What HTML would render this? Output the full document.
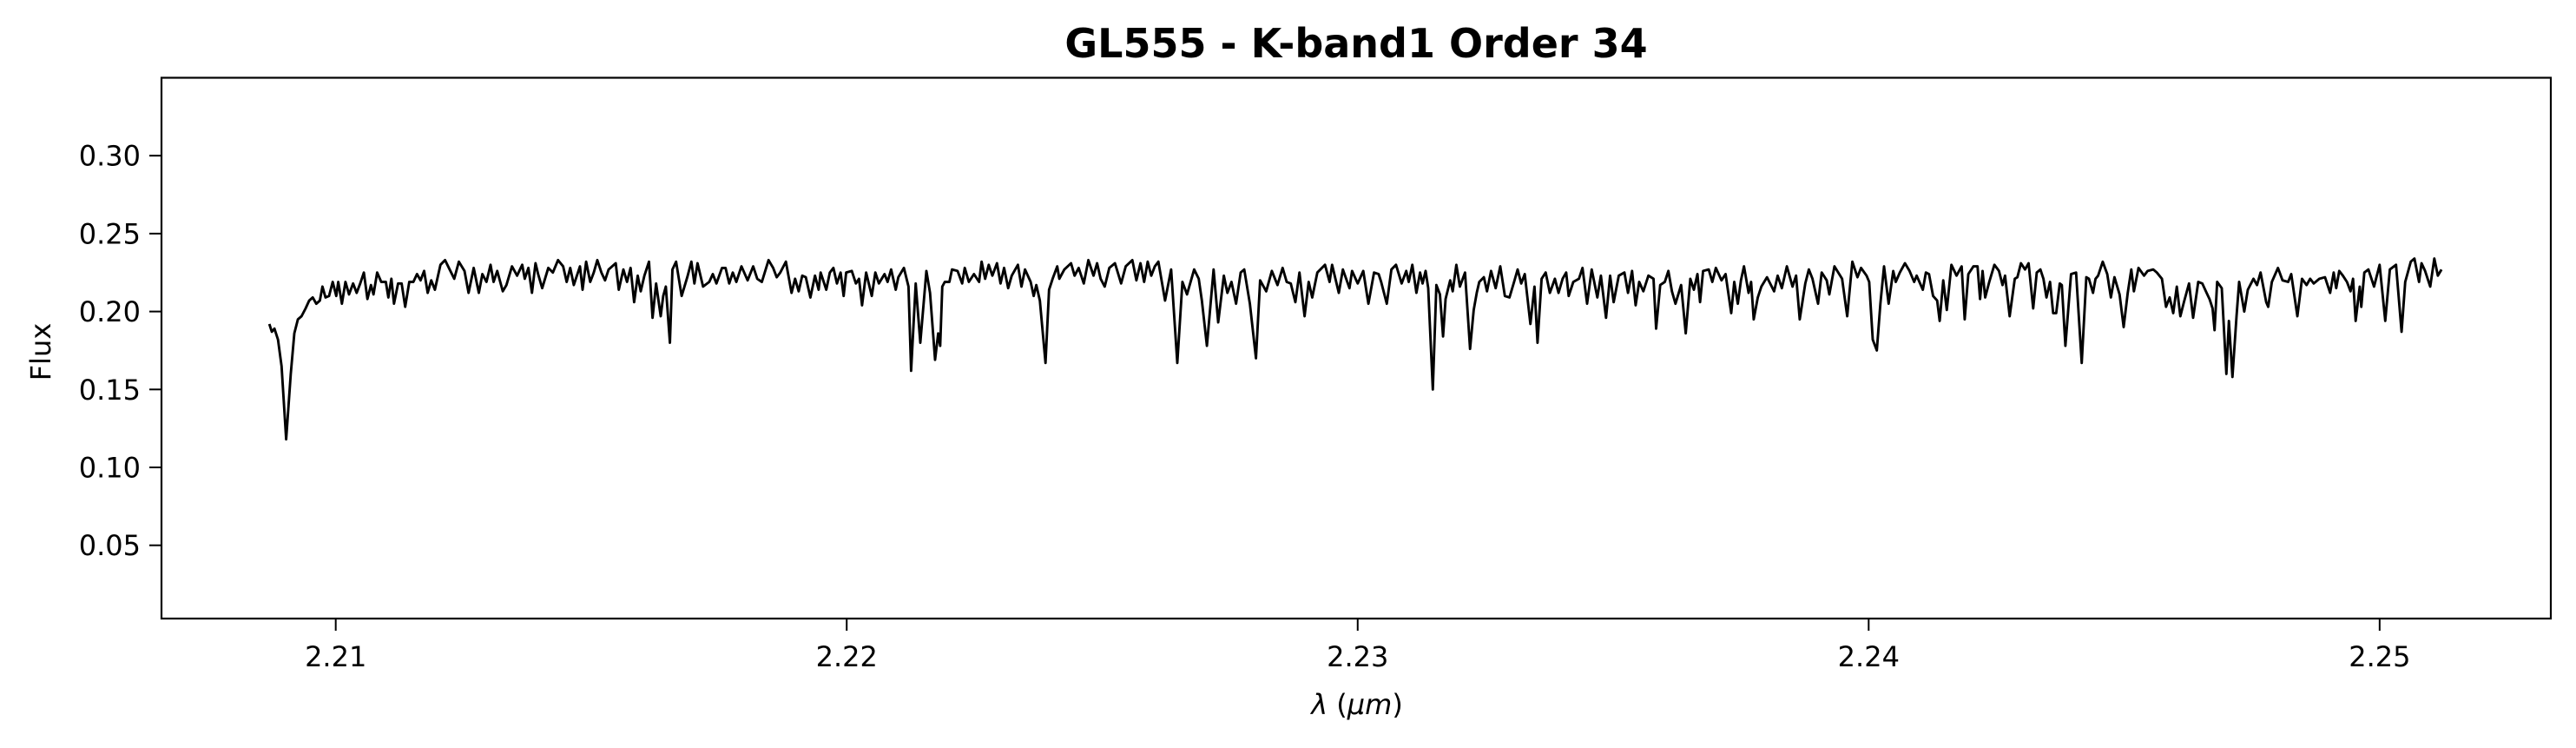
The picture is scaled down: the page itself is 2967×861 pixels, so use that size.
<!DOCTYPE html>
<html><head><meta charset="utf-8"><style>
html,body{margin:0;padding:0;background:#fff}
svg{display:block}
text{font-family:"DejaVu Sans","Liberation Sans",sans-serif;fill:#000}
</style></head><body>
<svg id="chart" width="2967" height="861" viewBox="0 0 2967 861" xmlns="http://www.w3.org/2000/svg">
<rect x="0" y="0" width="2967" height="861" fill="#fff"/>
<text x="1562" y="66" font-size="46" font-weight="bold" text-anchor="middle">GL555 - K-band1 Order 34</text>
<g id="yticks"></g>
<g id="xticks"></g>
<path id="series" fill="none" stroke="#000" stroke-width="2.9" stroke-linejoin="round"/>
<rect x="186" y="89.5" width="2752" height="622.5" fill="none" stroke="#000" stroke-width="2.2"/>
<text x="0" y="0" font-size="32" text-anchor="middle" transform="translate(58,405) rotate(-90)">Flux</text>
<text x="1563" y="822" font-size="32" text-anchor="middle"><tspan font-style="italic">λ</tspan> (<tspan font-style="italic">μm</tspan>)</text>
</svg>
<script>
const xTicks=[2.21,2.22,2.23,2.24,2.25];
const xTickLabels=["2.21","2.22","2.23","2.24","2.25"];
const yTicks=[0.05,0.10,0.15,0.20,0.25,0.30];
const yTickLabels=["0.05","0.10","0.15","0.20","0.25","0.30"];
const wavelength=[2.2087,2.20875,2.2088,2.20887,2.20894,2.20903,2.20912,2.20919,2.20926,2.20933,2.20941,2.20948,2.20955,2.20962,2.20969,2.20974,2.2098,2.20987,2.20994,2.21001,2.21005,2.21012,2.21019,2.21026,2.21034,2.21041,2.21048,2.21055,2.21062,2.21069,2.21074,2.21081,2.21089,2.21098,2.21103,2.21109,2.21114,2.21122,2.21129,2.21136,2.21144,2.21152,2.21159,2.21166,2.21173,2.2118,2.21187,2.21194,2.21205,2.21214,2.21223,2.21232,2.21241,2.21252,2.2126,2.2127,2.2128,2.21287,2.21295,2.21303,2.21309,2.21316,2.21327,2.21334,2.21345,2.21355,2.21365,2.2137,2.21377,2.21384,2.21391,2.21396,2.21404,2.21416,2.21425,2.21435,2.21445,2.21452,2.21459,2.21466,2.21478,2.21483,2.2149,2.21498,2.21505,2.21512,2.2152,2.21527,2.21534,2.21548,2.21554,2.21563,2.2157,2.21577,2.21584,2.21591,2.21597,2.21604,2.21613,2.2162,2.21627,2.21636,2.21641,2.21646,2.21654,2.21659,2.21666,2.21677,2.21688,2.21696,2.21702,2.21708,2.21719,2.21731,2.21738,2.21745,2.21756,2.21763,2.2177,2.21777,2.21784,2.21794,2.21806,2.21817,2.21825,2.21834,2.21847,2.21856,2.21863,2.2187,2.21881,2.21892,2.21899,2.21906,2.21913,2.2192,2.21929,2.21938,2.21945,2.21949,2.2196,2.21967,2.21974,2.21981,2.21988,2.21994,2.21999,
2.2201,2.22018,2.22024,2.2203,2.22038,2.22049,2.22056,2.22063,2.22074,2.2208,2.22087,2.22096,2.22101,2.22112,2.22121,2.22126,2.22135,2.22144,2.22156,2.22163,2.22173,2.22179,2.22183,2.22187,2.22192,2.22201,2.22206,2.22217,2.22226,2.22231,2.22239,2.22249,2.22259,2.22264,2.22271,2.22278,2.22285,2.22294,2.22301,2.22308,2.22316,2.22323,2.22335,2.22342,2.22349,2.2236,2.22366,2.22371,2.22378,2.22389,2.22396,2.22403,2.22412,2.22416,2.22426,2.22439,2.22446,2.22454,2.22464,2.22473,2.22483,2.2249,2.22497,2.22505,2.22514,2.22525,2.22537,2.22546,2.22559,2.22567,2.22575,2.22582,2.22589,2.22596,2.22603,2.2261,2.22623,2.22635,2.22647,2.22657,2.22666,2.2268,2.22689,2.22695,2.22705,2.22718,2.22727,2.22738,2.22745,2.22753,2.22762,2.22771,2.22778,2.22789,2.22801,2.22809,2.22821,2.22832,2.22843,2.22853,2.22861,2.22869,2.22878,2.22886,2.22896,2.22904,2.22911,2.22921,2.22936,2.22945,2.2295,2.22963,2.22971,2.22984,2.22989,2.23,2.23011,2.23021,2.23032,2.23041,2.23046,2.23057,2.23066,2.23075,2.23086,2.23095,
2.231,2.23107,2.23115,2.23122,2.23127,2.23133,2.23138,2.23147,2.23154,2.23161,2.23167,2.23172,2.23181,2.23186,2.23193,2.232,2.2321,2.2322,2.23227,2.23233,2.23238,2.23247,2.23253,2.23261,2.2327,2.23279,2.23288,2.23297,2.23306,2.23313,2.2332,2.23327,2.23338,2.23346,2.23352,2.2336,2.23368,2.23376,2.23386,2.23393,2.23401,2.23408,2.23413,2.23422,2.23433,2.2344,2.23449,2.23458,2.23469,2.23476,2.23486,2.23494,2.23501,2.23511,2.23522,2.23529,2.23537,2.23544,2.23551,2.23559,2.23569,2.23579,2.23584,2.23592,2.23601,2.23608,2.23615,2.23622,2.23633,2.23642,2.23651,2.23658,2.23665,2.2367,2.23676,2.23687,2.23694,2.23701,2.23712,2.2372,2.23731,2.23737,2.23744,2.2375,2.23756,2.23765,2.2377,2.23775,2.23783,2.2379,2.23801,2.23815,2.23822,2.2383,2.2384,2.23851,2.23858,2.23865,2.23876,2.23883,2.2389,2.23901,2.23908,2.23918,2.23923,2.23933,2.23948,2.23958,2.23968,2.23978,2.23985,2.23996,2.24001,2.24008,2.24016,2.24023,2.2403,2.24039,2.24048,2.24053,2.24061,2.24071,2.2408,2.24089,2.24094,2.24106,2.24112,2.24118,2.24126,2.24134,2.24139,2.24146,2.24153,2.24162,2.24172,2.24182,
2.24188,2.24195,2.24205,2.24213,2.24218,2.24223,2.24228,2.24236,2.24246,2.24255,2.24262,2.24267,2.24276,2.24286,2.24291,2.24298,2.24306,2.24313,2.24322,2.24329,2.24336,2.24342,2.24348,2.24355,2.24361,2.24367,2.24374,2.24378,2.24385,2.24396,2.24406,2.24417,2.24426,2.24431,2.24439,2.24444,2.24449,2.24458,2.24467,2.24474,2.24481,2.24491,2.24499,2.24507,2.24514,2.24519,2.24528,2.24539,2.24546,2.24557,2.24564,2.24574,2.24582,2.24589,2.24596,2.24603,2.2461,2.24617,2.24627,2.24635,2.24645,2.24653,2.2466,2.24667,2.24673,2.24677,2.24682,2.24691,2.247,2.24705,2.24712,2.2472,2.24725,2.24735,2.24742,2.24753,2.2476,2.24767,2.24778,2.24782,2.24789,2.24801,2.2481,2.24821,2.24827,2.24839,2.24848,2.24857,2.24864,2.24871,2.24882,2.24893,2.24903,2.2491,2.24915,2.24921,2.24928,2.24936,2.24943,2.24948,2.24953,2.24961,2.24964,2.2497,2.24978,2.24989,2.25,2.25011,2.2502,2.25032,2.25043,2.2505,2.25061,2.25068,2.25077,2.25082,2.25089,2.25099,2.25107,2.25114,2.25121];
const flux=[0.192,0.187,0.189,0.182,0.165,0.118,0.16,0.186,0.195,0.197,0.202,0.207,0.209,0.205,0.207,0.216,0.209,0.21,0.219,0.21,0.219,0.205,0.219,0.211,0.218,0.212,0.218,0.225,0.208,0.217,0.211,0.225,0.219,0.219,0.209,0.221,0.205,0.218,0.218,0.203,0.219,0.219,0.224,0.22,0.226,0.212,0.22,0.214,0.23,0.233,0.227,0.221,0.232,0.226,0.212,0.228,0.212,0.224,0.219,0.23,0.219,0.226,0.213,0.217,0.229,0.223,0.23,0.221,0.228,0.212,0.231,0.224,0.215,0.228,0.225,0.233,0.229,0.219,0.228,0.217,0.229,0.214,0.232,0.219,0.225,0.233,0.225,0.22,0.227,0.231,0.214,0.227,0.219,0.228,0.206,0.223,0.213,0.223,0.232,0.196,0.218,0.197,0.21,0.216,0.18,0.227,0.232,0.21,0.222,0.232,0.218,0.231,0.216,0.219,0.224,0.218,0.228,0.228,0.218,0.225,0.219,0.229,0.22,0.229,0.221,0.219,0.233,0.228,0.222,0.225,0.232,0.212,0.221,0.213,0.223,0.222,0.209,0.223,0.214,0.225,0.214,0.225,0.228,0.218,0.225,0.21,0.225,
0.226,0.218,0.221,0.204,0.225,0.21,0.225,0.218,0.224,0.219,0.227,0.214,0.222,0.228,0.216,0.162,0.218,0.18,0.226,0.212,0.169,0.186,0.178,0.216,0.219,0.219,0.227,0.226,0.218,0.228,0.219,0.224,0.219,0.232,0.221,0.23,0.223,0.231,0.218,0.228,0.215,0.223,0.23,0.216,0.227,0.219,0.21,0.217,0.207,0.167,0.214,0.221,0.229,0.221,0.227,0.231,0.223,0.228,0.218,0.233,0.223,0.231,0.221,0.216,0.228,0.231,0.218,0.229,0.233,0.22,0.231,0.219,0.232,0.223,0.229,0.232,0.207,0.227,0.167,0.219,0.211,0.227,0.221,0.207,0.178,0.227,0.193,0.223,0.212,0.219,0.205,0.225,0.227,0.205,0.17,0.22,0.213,0.226,0.217,0.228,0.219,0.218,0.206,0.225,0.197,0.219,0.209,0.225,0.23,0.219,0.23,0.212,0.227,0.215,0.226,0.218,0.226,0.205,0.225,0.224,0.219,0.205,0.227,0.23,0.218,0.226,
0.219,0.23,0.212,0.225,0.218,0.226,0.215,0.15,0.217,0.211,0.184,0.208,0.22,0.213,0.23,0.216,0.225,0.176,0.201,0.212,0.219,0.222,0.213,0.226,0.215,0.229,0.21,0.209,0.219,0.227,0.218,0.224,0.192,0.216,0.18,0.221,0.225,0.212,0.221,0.212,0.221,0.225,0.21,0.219,0.221,0.228,0.205,0.227,0.209,0.223,0.196,0.223,0.206,0.223,0.225,0.212,0.226,0.204,0.219,0.213,0.223,0.221,0.189,0.217,0.219,0.226,0.213,0.205,0.217,0.186,0.221,0.214,0.224,0.206,0.226,0.227,0.219,0.228,0.22,0.224,0.199,0.219,0.205,0.22,0.229,0.212,0.219,0.195,0.209,0.216,0.222,0.213,0.223,0.215,0.229,0.216,0.223,0.195,0.218,0.227,0.221,0.205,0.225,0.22,0.211,0.229,0.221,0.197,0.232,0.222,0.228,0.223,0.219,0.182,0.175,0.205,0.229,0.205,0.226,0.219,0.225,0.231,0.226,0.219,0.223,0.214,0.225,0.224,0.21,0.207,0.194,0.22,0.201,0.23,0.223,0.229,
0.195,0.224,0.229,0.229,0.208,0.226,0.209,0.219,0.23,0.226,0.217,0.223,0.197,0.221,0.222,0.231,0.227,0.231,0.202,0.225,0.227,0.221,0.209,0.219,0.199,0.199,0.218,0.217,0.178,0.224,0.225,0.167,0.222,0.221,0.212,0.221,0.223,0.232,0.224,0.209,0.222,0.211,0.19,0.212,0.227,0.213,0.228,0.223,0.226,0.227,0.225,0.221,0.203,0.209,0.199,0.216,0.197,0.206,0.218,0.196,0.219,0.218,0.213,0.208,0.202,0.188,0.219,0.215,0.16,0.194,0.158,0.197,0.219,0.2,0.214,0.221,0.217,0.225,0.206,0.203,0.219,0.228,0.22,0.219,0.224,0.197,0.221,0.217,0.221,0.218,0.221,0.222,0.212,0.225,0.215,0.226,0.223,0.219,0.213,0.221,0.194,0.216,0.203,0.225,0.227,0.216,0.23,0.194,0.227,0.23,0.187,0.219,0.232,0.234,0.219,0.231,0.226,0.216,0.234,0.223,0.227];

const X0=186,X1=2938,Y0=89.5,Y1=712;
const xMin=2.20659,xMax=2.25335,yMin=0.003,yMax=0.35;
function xScale(v){return X0+(v-xMin)/(xMax-xMin)*(X1-X0);}
function yScale(v){return Y1-(v-yMin)/(yMax-yMin)*(Y1-Y0);}
const NS='http://www.w3.org/2000/svg';
const yg=document.getElementById('yticks'),xg=document.getElementById('xticks');
yTicks.forEach((t,i)=>{
  const y=yScale(t);
  const l=document.createElementNS(NS,'line');
  l.setAttribute('x1',X0-14);l.setAttribute('x2',X0);l.setAttribute('y1',y);l.setAttribute('y2',y);
  l.setAttribute('stroke','#000');l.setAttribute('stroke-width','2');
  
  
  yg.appendChild(l);
  const tx=document.createElementNS(NS,'text');
  tx.setAttribute('x',X0-24);tx.setAttribute('y',y+11.5);tx.setAttribute('font-size','32');tx.setAttribute('text-anchor','end');
  tx.textContent=yTickLabels[i];
  
  
  yg.appendChild(tx);
});
xTicks.forEach((t,i)=>{
  const x=xScale(t);
  const l=document.createElementNS(NS,'line');
  l.setAttribute('x1',x);l.setAttribute('x2',x);l.setAttribute('y1',Y1);l.setAttribute('y2',Y1+14);
  l.setAttribute('stroke','#000');l.setAttribute('stroke-width','2');
  
  
  xg.appendChild(l);
  const tx=document.createElementNS(NS,'text');
  tx.setAttribute('x',x);tx.setAttribute('y',767);tx.setAttribute('font-size','32');tx.setAttribute('text-anchor','middle');
  tx.textContent=xTickLabels[i];
  
  
  xg.appendChild(tx);
});
let d='';
for(let i=0;i<wavelength.length&&i<flux.length;i++){
  d+=(i?'L':'M')+xScale(wavelength[i]).toFixed(1)+' '+yScale(flux[i]).toFixed(1);
}
document.getElementById('series').setAttribute('d',d);
</script>
</body></html>
